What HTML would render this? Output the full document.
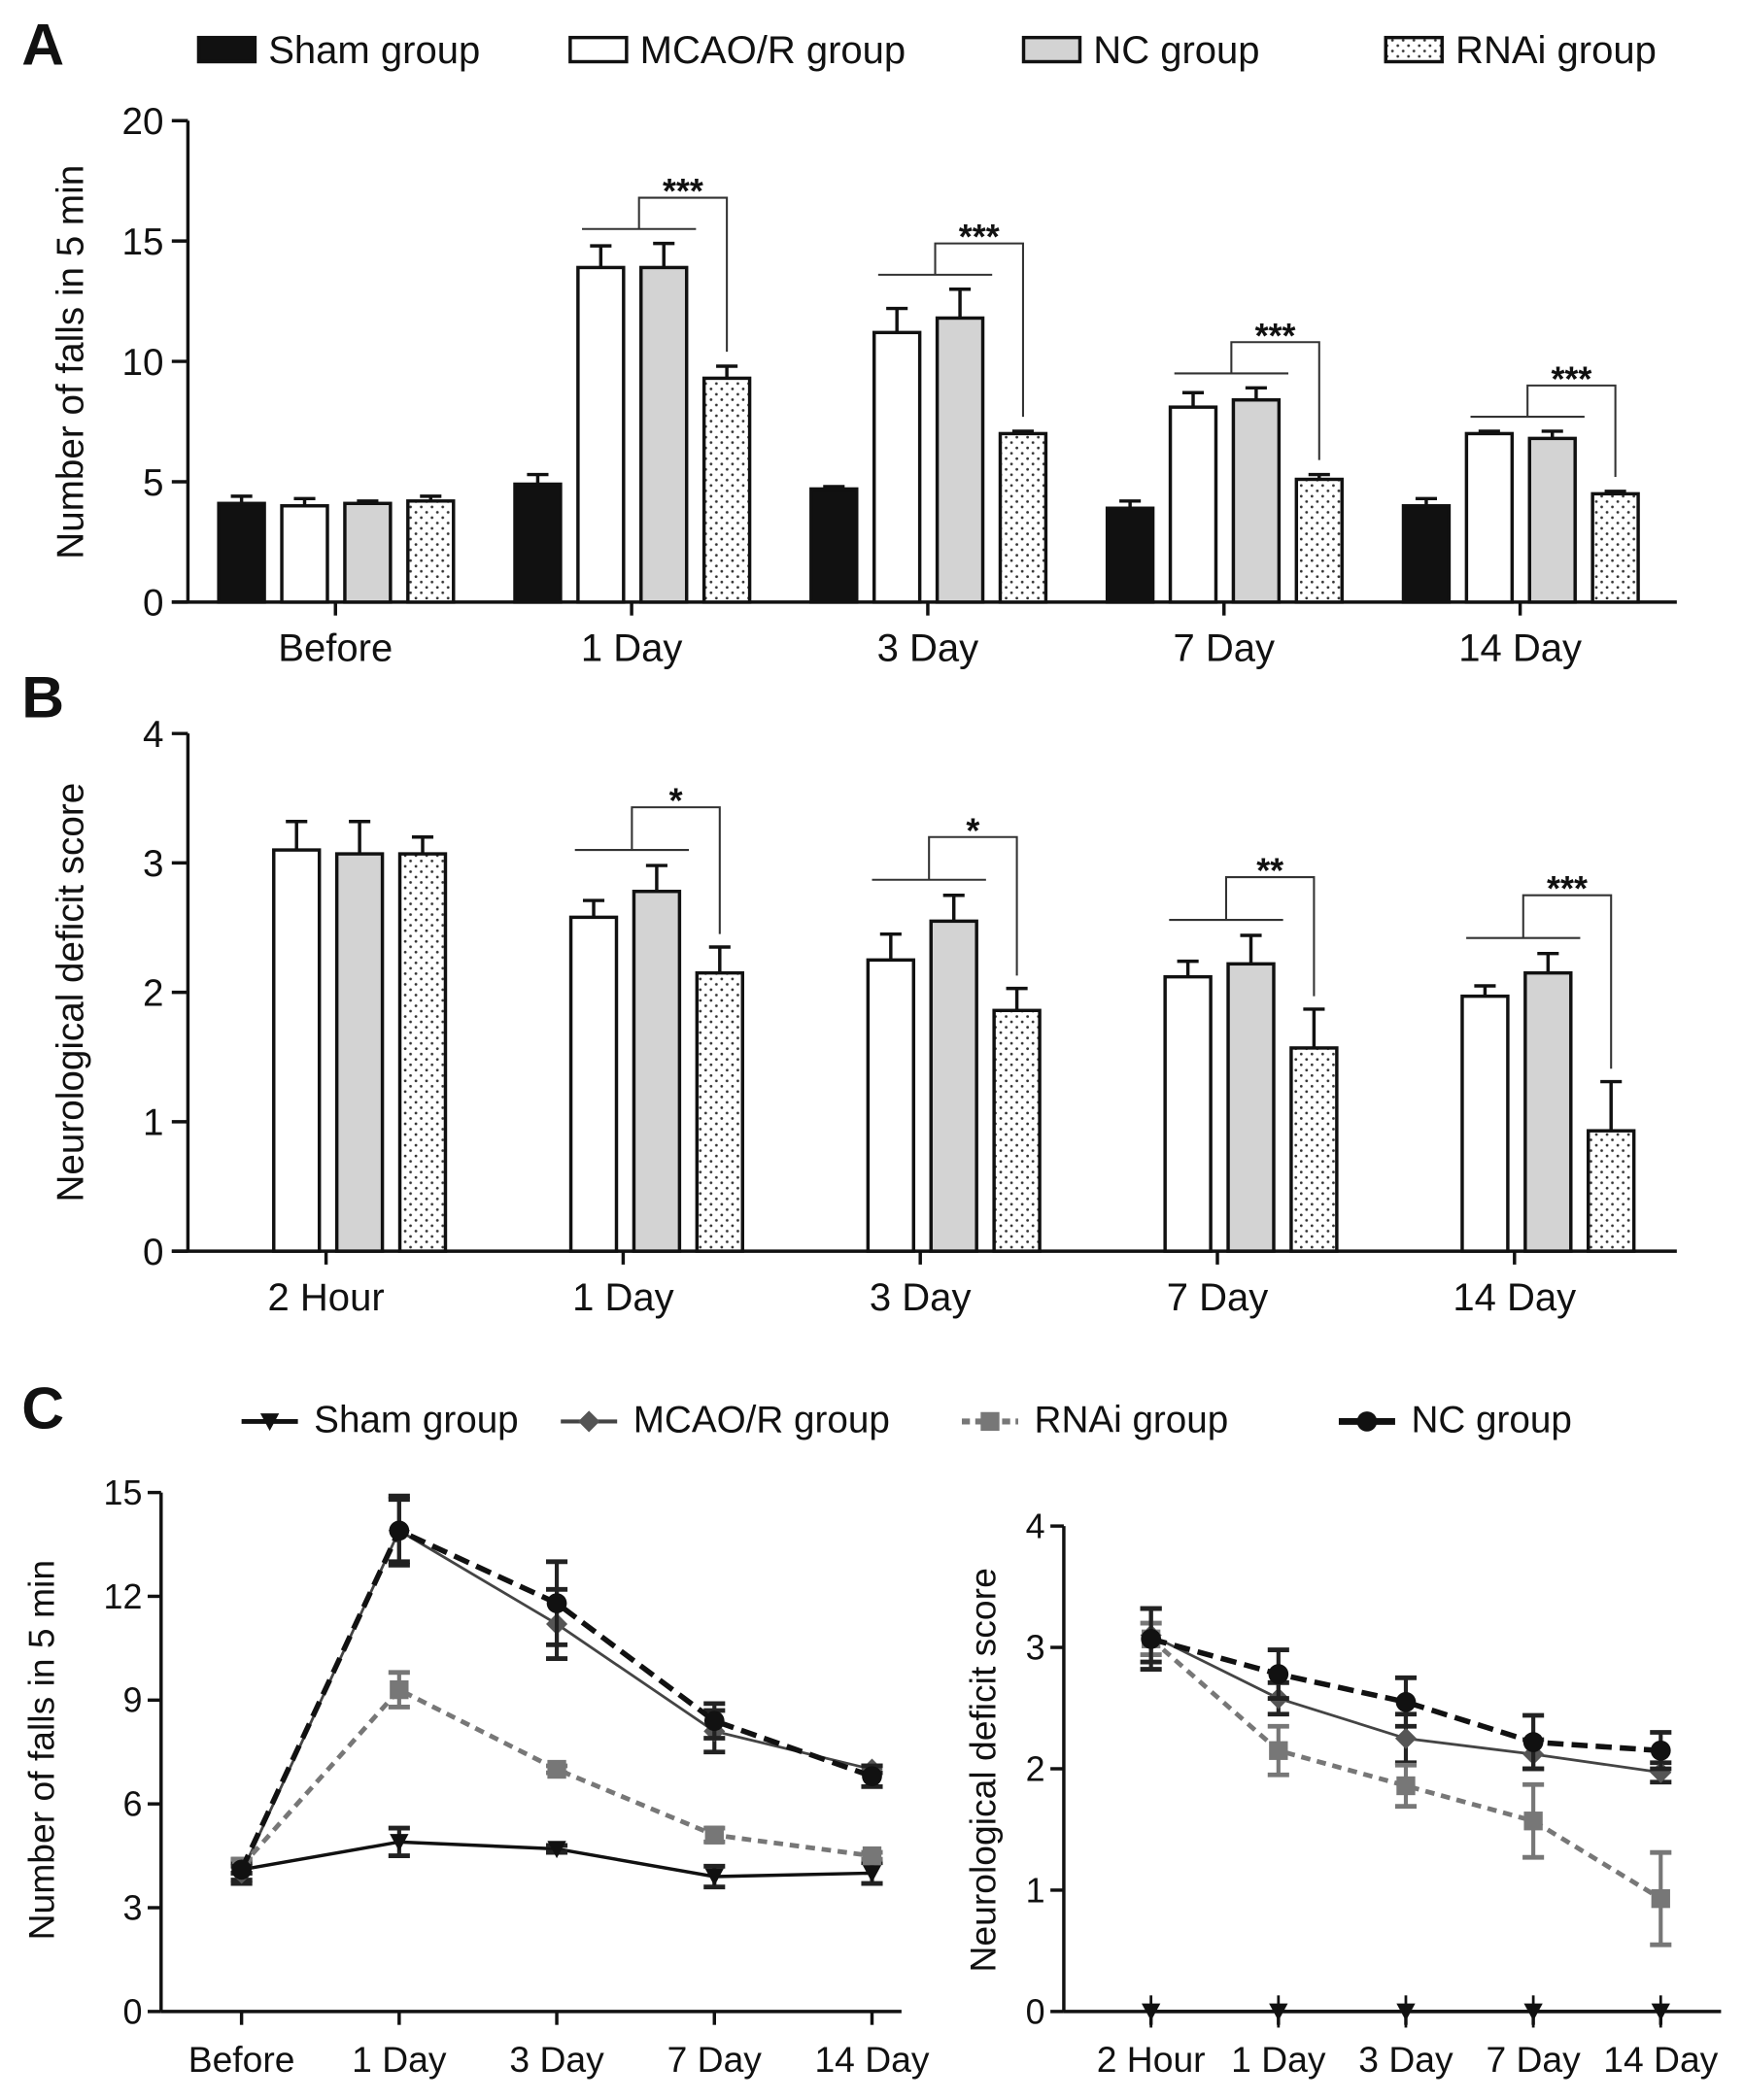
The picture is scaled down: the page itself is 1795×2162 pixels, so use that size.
<!DOCTYPE html>
<html><head><meta charset="utf-8"><style>
html,body{margin:0;padding:0;background:#fff}
svg{display:block}
text{font-family:"Liberation Sans",Arial,sans-serif;fill:#111}
</style></head><body>
<svg id="fig" width="1795" height="2162" viewBox="0 0 1300 1566" xmlns="http://www.w3.org/2000/svg">
<defs>
<pattern id="dots" width="8" height="8" patternUnits="userSpaceOnUse"><rect width="8" height="8" fill="#fff"/><circle cx="2" cy="2" r="1" fill="#333"/><circle cx="6" cy="6" r="1" fill="#333"/></pattern>
</defs>
<g id="root"></g>
</svg>
<script>
// Panel A data
const catsA = ["Before","1 Day","3 Day","7 Day","14 Day"];
const shamA = [4.1,4.9,4.7,3.9,4.0];
const shamAErr = [0.3,0.4,0.1,0.3,0.3];
const mcaoA = [4.0,13.9,11.2,8.1,7.0];
const mcaoAErr = [0.3,0.9,1.0,0.6,0.1];
const ncA = [4.1,13.9,11.8,8.4,6.8];
const ncAErr = [0.1,1.0,1.2,0.5,0.3];
const rnaiA = [4.2,9.3,7.0,5.1,4.5];
const rnaiAErr = [0.2,0.5,0.1,0.2,0.1];
const sigA = ["","***","***","***","***"];
const ticksA = [0,5,10,15,20];
// Panel B data
const catsB = ["2 Hour","1 Day","3 Day","7 Day","14 Day"];
const mcaoB = [3.1,2.58,2.25,2.12,1.97];
const mcaoBErr = [0.22,0.13,0.2,0.12,0.08];
const ncB = [3.07,2.78,2.55,2.22,2.15];
const ncBErr = [0.25,0.2,0.2,0.22,0.15];
const rnaiB = [3.07,2.15,1.86,1.57,0.93];
const rnaiBErr = [0.13,0.2,0.17,0.3,0.38];
const sigB = ["","*","*","**","***"];
const ticksB = [0,1,2,3,4];
// Panel C data
const catsC1 = ["Before","1 Day","3 Day","7 Day","14 Day"];
const ticksC1 = [0,3,6,9,12,15];
const catsC2 = ["2 Hour","1 Day","3 Day","7 Day","14 Day"];
const ticksC2 = [0,1,2,3,4];
const shamC2 = [0,0,0,0,0];
const shamC2Err = [0,0,0,0,0];

const NS="http://www.w3.org/2000/svg";
const root=document.getElementById('root');
function mk(tag,attrs,parent){const e=document.createElementNS(NS,tag);for(const k in attrs)e.setAttribute(k,attrs[k]);(parent||root).appendChild(e);return e;}
function txt(x,y,s,size,anchor,parent,extra){const t=mk('text',Object.assign({x:x,y:y,'font-size':size,'text-anchor':anchor||'middle'},extra||{}),parent);t.textContent=s;return t;}

[["A",16,48],["B",16,535],["C",16,1065]].forEach(([l,x,y])=>{
  const t=txt(x,y,l,44,'start',root,{'font-family':'Liberation Serif,serif','font-weight':'bold'});
  
  
});

const legA=mk('g',{});


[["Sham group",148,"#111"],["MCAO/R group",425,"#fff"],["NC group",763,"#d3d3d3"],["RNAi group",1033,"url(#dots)"]].forEach(([n,x,f])=>{
  const g=mk('g',{},legA);
  
  
  mk('rect',{x:x,y:28,width:42,height:18,fill:f,stroke:'#111','stroke-width':2.5},g);
  txt(x+52,47,n,29,'start',g);
});

function barPanel(opt){
  const g=mk('g',{});
  
  
  const y=v=>opt.y0-(v/opt.max)*(opt.y0-opt.yTop);
  const x=i=>opt.x0+i*opt.step;
  const ax=mk('line',{x1:opt.ax,y1:opt.yTop,x2:opt.ax,y2:opt.y0,stroke:'#111','stroke-width':2.5},g);
  
  
  const bx=mk('line',{x1:opt.ax-12,y1:opt.y0,x2:opt.axEnd,y2:opt.y0,stroke:'#111','stroke-width':2.5},g);
  
  
  opt.ticks.forEach(t=>{
    mk('line',{x1:opt.ax-12,y1:y(t),x2:opt.ax,y2:y(t),stroke:'#111','stroke-width':2.5},g);
    const tl=txt(opt.ax-18,y(t)+10,String(t),28,'end',g);
    
    
  });
  opt.cats.forEach((c,i)=>{
    mk('line',{x1:x(i),y1:opt.y0,x2:x(i),y2:opt.y0+10,stroke:'#111','stroke-width':2.5},g);
    const tl=txt(x(i),opt.y0+44,c,29,'middle',g);
    
    
  });
  const yt=txt(0,0,opt.ytitle,28,'middle',g,{transform:`translate(${opt.ytx},${opt.yty}) rotate(-90)`});
  
  
  const bw=34;
  opt.series.forEach(s=>{
    s.vals.forEach((v,i)=>{
      const cx=x(i)+s.off;
      const top=y(v), et=y(v+s.err[i]);
      mk('line',{x1:cx,y1:top,x2:cx,y2:et,stroke:'#111','stroke-width':2.5},g);
      mk('line',{x1:cx-8,y1:et,x2:cx+8,y2:et,stroke:'#111','stroke-width':2.5},g);
      const r=mk('rect',{x:cx-bw/2,y:top,width:bw,height:opt.y0-top,fill:s.fill,stroke:'#111','stroke-width':2.5},g);
      
      
    });
  });
  const m=opt.series.find(s=>s.key==='mcao'), n=opt.series.find(s=>s.key==='nc'), r=opt.series.find(s=>s.key==='rnai');
  opt.sig.forEach((s,i)=>{
    if(!s)return;
    const hi=Math.max(m.vals[i]+m.err[i],n.vals[i]+n.err[i]);
    const lv=y(hi+opt.gap), tv=y(hi+opt.gap+opt.rise);
    const xl=x(i)+m.off-14, xr=x(i)+n.off+24, xm=(xl+xr)/2, xq=x(i)+r.off;
    const low=y(r.vals[i]+r.err[i]+opt.drop);
    const bg=mk('g',{fill:'none',stroke:'#333','stroke-width':1.5},g);
    
    
    mk('line',{x1:xl,y1:lv,x2:xr,y2:lv},bg);
    mk('polyline',{points:`${xm},${lv} ${xm},${tv} ${xq},${tv} ${xq},${low}`},bg);
    const st=txt((xm+xq)/2,tv+4,s,26,'middle',g,{'font-weight':'bold'});
    
    
  });
}

barPanel({name:'panel-a-chart',ax:140,axEnd:1250,yTop:90,y0:449,max:20,x0:250,step:220.8,ticks:ticksA,cats:catsA,
  ytitle:'Number of falls in 5 min',ytx:62,yty:270,sig:sigA,gap:0.6,rise:1.3,drop:0.6,
  series:[{key:'sham',vals:shamA,err:shamAErr,off:-70,fill:'#111'},{key:'mcao',vals:mcaoA,err:mcaoAErr,off:-23,fill:'#fff'},
  {key:'nc',vals:ncA,err:ncAErr,off:24,fill:'#d3d3d3'},{key:'rnai',vals:rnaiA,err:rnaiAErr,off:71,fill:'url(#dots)'}]});

barPanel({name:'panel-b-chart',ax:140,axEnd:1250,yTop:547,y0:933,max:4,x0:243,step:221.5,ticks:ticksB,cats:catsB,
  ytitle:'Neurological deficit score',ytx:62,yty:740,sig:sigB,gap:0.12,rise:0.33,drop:0.1,
  series:[{key:'mcao',vals:mcaoB,err:mcaoBErr,off:-22,fill:'#fff'},{key:'nc',vals:ncB,err:ncBErr,off:25,fill:'#d3d3d3'},
  {key:'rnai',vals:rnaiB,err:rnaiBErr,off:72,fill:'url(#dots)'}]});

const legC=mk('g',{});


const styles={
  sham:{stroke:'#111',w:2.5,dash:'',marker:'tri',mfill:'#111'},
  mcao:{stroke:'#444',w:2,dash:'',marker:'dia',mfill:'#555'},
  rnai:{stroke:'#777',w:3.5,dash:'7,5',marker:'sq',mfill:'#777'},
  nc:{stroke:'#111',w:4,dash:'12,6',marker:'circ',mfill:'#111'}
};
function marker(type,cx,cy,fill,parent){
  if(type==='tri')return mk('polygon',{points:`${cx-7},${cy-6} ${cx+7},${cy-6} ${cx},${cy+7}`,fill:fill},parent);
  if(type==='dia')return mk('polygon',{points:`${cx},${cy-8} ${cx+8},${cy} ${cx},${cy+8} ${cx-8},${cy}`,fill:fill},parent);
  if(type==='sq')return mk('rect',{x:cx-7,y:cy-7,width:14,height:14,fill:fill},parent);
  return mk('circle',{cx:cx,cy:cy,r:7.5,fill:fill},parent);
}
[["Sham group",180,'sham'],["MCAO/R group",418,'mcao'],["RNAi group",717,'rnai'],["NC group",998,'nc']].forEach(([n,x,k])=>{
  const g=mk('g',{},legC);
  
  
  const s=styles[k];
  mk('line',{x1:x,y1:1060,x2:x+42,y2:1060,stroke:s.stroke,'stroke-width':s.w+1,'stroke-dasharray':k==='rnai'?'6,4':''},g);
  marker(s.marker,x+21,1060,s.mfill,g);
  txt(x+54,1068,n,28,'start',g);
});

function linePanel(opt){
  const g=mk('g',{});
  
  
  const y=v=>opt.y0-(v/opt.max)*(opt.y0-opt.yTop);
  const x=i=>opt.x0+i*opt.step;
  const ax=mk('line',{x1:opt.ax,y1:opt.yTop,x2:opt.ax,y2:opt.y0,stroke:'#111','stroke-width':2.5},g);
  
  
  const bx=mk('line',{x1:opt.ax,y1:opt.y0,x2:opt.axEnd,y2:opt.y0,stroke:'#111','stroke-width':2.5},g);
  
  
  opt.ticks.forEach(t=>{
    mk('line',{x1:opt.ax-10,y1:y(t),x2:opt.ax,y2:y(t),stroke:'#111','stroke-width':2.5},g);
    const tl=txt(opt.ax-14,y(t)+9,String(t),26,'end',g);
    
    
  });
  opt.cats.forEach((c,i)=>{
    mk('line',{x1:x(i),y1:opt.y0,x2:x(i),y2:opt.y0+10,stroke:'#111','stroke-width':2.5},g);
    const tl=txt(x(i),opt.y0+45,c,27,'middle',g);
    
    
  });
  const yt=txt(0,0,opt.ytitle,27,'middle',g,{transform:`translate(${opt.ytx},${opt.yty}) rotate(-90)`});
  
  
  opt.series.forEach(s=>{
    const st=styles[s.key];
    const sg=mk('g',{},g);
    
    
    const pts=s.vals.map((v,i)=>`${x(i)},${y(v)}`).join(' ');
    mk('polyline',{points:pts,fill:'none',stroke:st.stroke,'stroke-width':st.w,'stroke-dasharray':st.dash},sg);
    s.vals.forEach((v,i)=>{
      const e=s.err[i];
      const ec=st.stroke==='#777'?'#777':'#222';
      if(e>0){
        mk('line',{x1:x(i),y1:y(v-e),x2:x(i),y2:y(v+e),stroke:ec,'stroke-width':3},sg);
        mk('line',{x1:x(i)-8,y1:y(v-e),x2:x(i)+8,y2:y(v-e),stroke:ec,'stroke-width':3.5},sg);
        mk('line',{x1:x(i)-8,y1:y(v+e),x2:x(i)+8,y2:y(v+e),stroke:ec,'stroke-width':3.5},sg);
      }
      const mm=marker(st.marker,x(i),y(v),st.mfill,sg);
      
      
    });
    if(s.key==='sham'&&opt.shamTicks){
      s.vals.forEach((v,i)=>{mk('line',{x1:x(i),y1:y(v)-12,x2:x(i),y2:y(v)+12,stroke:'#111','stroke-width':2},sg);});
    }
  });
}

linePanel({name:'panel-c-falls-chart',ax:120,axEnd:672,yTop:1113,y0:1500,max:15,x0:180,step:117.5,ticks:ticksC1,cats:catsC1,
  ytitle:'Number of falls in 5 min',ytx:40,yty:1305,
  series:[{key:'sham',vals:shamA,err:shamAErr},{key:'mcao',vals:mcaoA,err:mcaoAErr},
  {key:'rnai',vals:rnaiA,err:rnaiAErr},{key:'nc',vals:ncA,err:ncAErr}]});

linePanel({name:'panel-c-score-chart',ax:793,axEnd:1283,yTop:1138,y0:1500,max:4,x0:858,step:95,ticks:ticksC2,cats:catsC2,
  ytitle:'Neurological deficit score',ytx:742,yty:1320,shamTicks:true,
  series:[{key:'sham',vals:shamC2,err:shamC2Err},{key:'mcao',vals:mcaoB,err:mcaoBErr},
  {key:'rnai',vals:rnaiB,err:rnaiBErr},{key:'nc',vals:ncB,err:ncBErr}]});
</script>
</body></html>
